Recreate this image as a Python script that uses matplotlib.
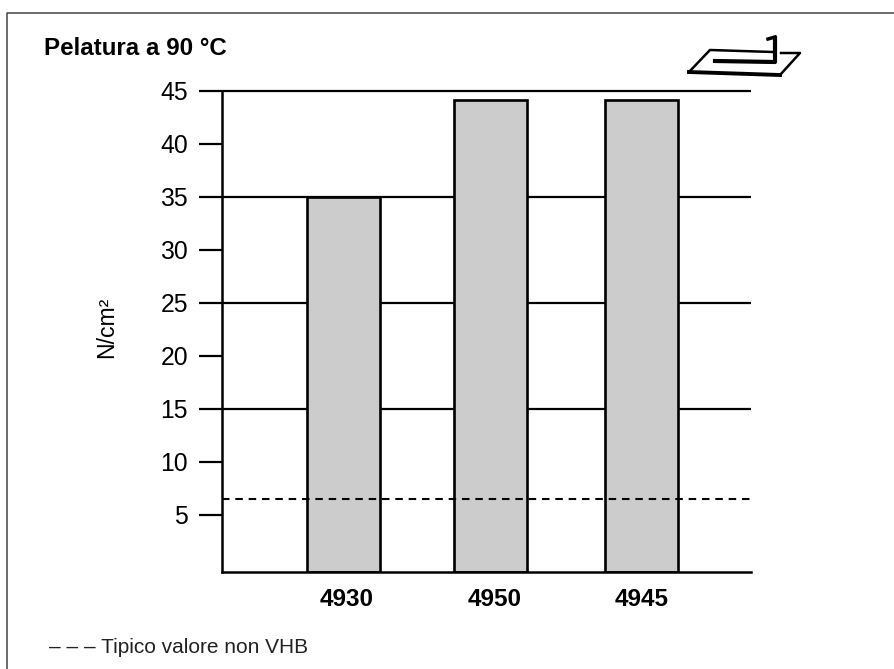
import matplotlib.pyplot as plt
from matplotlib.lines import Line2D

plt.rcParams["font.family"] = ["Liberation Sans", "DejaVu Sans"]

# dati
prodotti = ["4930", "4950", "4945"]
posizioni = [0, 1, 2.03]
pos_etichette = [0.02, 1.027, 2.03]
valori = [35, 44.15, 44.15]
tacche = [5, 10, 15, 20, 25, 30, 35, 40, 45]
griglia = [15, 25, 35, 45]
tipico_non_vhb = 6.5

W, H = 894, 669
fig = plt.figure(figsize=(W / 100, H / 100), dpi=100)
ax = fig.add_axes([222 / W, 1 - 572 / H, (751 - 222) / W, (572 - 91) / H])
ax.set_xlim(-0.827, 2.772)
ax.set_ylim(-0.38, 45)

# cornice esterna: solo lato sinistro e superiore
fig.add_artist(Line2D([7 / W, 7 / W, 1], [0, 1 - 13 / H, 1 - 13 / H],
                      transform=fig.transFigure, color="#444444", linewidth=1.1))

ax.hlines(griglia, -0.827, 2.772, color="black", linewidth=1.6, zorder=1, clip_on=False)
ax.bar(posizioni, [v + 0.38 for v in valori], bottom=-0.38, width=0.497,
       color="#cccccc", edgecolor="black", linewidth=1.9, zorder=2)
ax.axhline(tipico_non_vhb, color="black", linewidth=1.5, dashes=(3.6, 2.8), zorder=3)

for lato in ["top", "right"]:
    ax.spines[lato].set_visible(False)
ax.spines["left"].set_linewidth(1.8)
ax.spines["bottom"].set_linewidth(1.8)

ax.set_yticks(tacche)
ax.tick_params(axis="y", length=16.5, width=1.6, labelsize=17.8, pad=8)
ax.set_xticks([])
for x, nome in zip(pos_etichette, prodotti):
    ax.annotate(nome, (x, 0), xycoords=("data", "axes fraction"), xytext=(0, -34),
                textcoords="offset pixels", ha="center", va="baseline",
                fontweight="bold", fontsize=17.5)

fig.text(107 / W, 1 - 327 / H, "N/cm²", fontsize=16.6, rotation=90, ha="center", va="center")
fig.text(44 / W, 1 - 55 / H, "Pelatura a 90 °C", fontweight="bold", fontsize=17.4,
         ha="left", va="baseline")
fig.text(49 / W, 1 - 653 / H, "– – – Tipico valore non VHB", fontsize=15,
         color="#222222", ha="left", va="baseline")

# icona del provino
icona = fig.add_axes([0, 0, 1, 1], facecolor="none")
icona.set_xlim(0, W)
icona.set_ylim(H, 0)
icona.axis("off")
icona.plot([773, 710, 689], [52, 50, 72], color="black", linewidth=1.8)
icona.plot([689, 780], [72, 75], color="black", linewidth=2.8)
icona.plot([780, 800, 781], [75, 53, 53], color="black", linewidth=1.8)
icona.plot([715, 775, 775], [61, 62, 38], color="black", linewidth=3)
icona.plot([768, 775], [39, 37], color="black", linewidth=2.5)

fig.savefig("out.png", dpi=100)
